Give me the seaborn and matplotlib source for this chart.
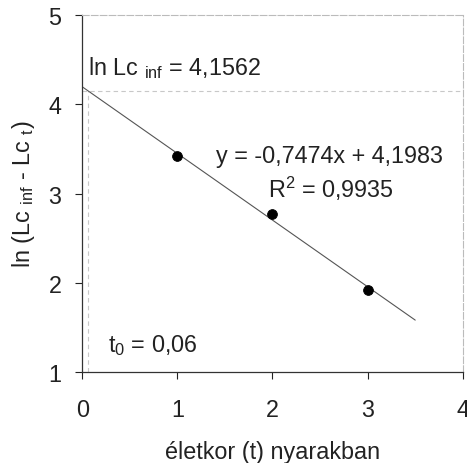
import matplotlib
matplotlib.use("Agg")
import matplotlib.pyplot as plt
import numpy as np
import pandas as pd
import seaborn as sns

# Data
ages = [1, 2, 3]
ln_diff = [3.42, 2.77, 1.92]
slope = -0.7474
intercept = 4.1983
r_squared = 0.9935
ln_lc_inf = 4.1562
t0 = 0.06
trend_x = [0, 3.5]

sns.set_style("ticks")
plt.rcParams["font.family"] = ["Liberation Sans", "DejaVu Sans"]
plt.rcParams["mathtext.fontset"] = "custom"
plt.rcParams["mathtext.rm"] = "Liberation Sans"
plt.rcParams["mathtext.it"] = "Liberation Sans"

FS = 16.8
TXT = "#222222"

fig = plt.figure(figsize=(4.67, 4.64), dpi=100)
ax = fig.add_axes([0.176, 0.196, 0.815, 0.769])

df = pd.DataFrame({"t": ages, "y": ln_diff})
trend = pd.DataFrame({"t": trend_x, "y": [slope * x + intercept for x in trend_x]})

# guide lines
ax.axhline(ln_lc_inf, color="#c8c8c8", lw=0.8, ls=(0, (4, 3)), zorder=1)
ax.plot([t0, t0], [1, ln_lc_inf], color="#c8c8c8", lw=0.8, ls=(0, (4, 3)), zorder=1)

sns.lineplot(data=trend, x="t", y="y", ax=ax, color="#555555", lw=0.8, zorder=2)
sns.scatterplot(data=df, x="t", y="y", ax=ax, color="black", s=50,
                edgecolor="black", zorder=3)

ax.set_xlim(0, 4)
ax.set_ylim(1, 5)
ax.set_xticks([0, 1, 2, 3, 4])
ax.set_yticks([1, 2, 3, 4, 5])
ax.tick_params(labelsize=FS, length=5, width=0.8, colors=TXT)
ax.tick_params(axis="x", pad=14)
ax.tick_params(axis="y", pad=10)

for side in ["left", "bottom"]:
    ax.spines[side].set_color("#333333")
    ax.spines[side].set_linewidth(0.9)
for side in ["top", "right"]:
    ax.spines[side].set_color("#bbbbbb")
    ax.spines[side].set_linewidth(0.8)
    ax.spines[side].set_linestyle((0, (6, 2)))

ax.set_xlabel("életkor (t) nyarakban", fontsize=FS, labelpad=13, color=TXT)
ax.set_ylabel(r"ln (Lc $_{\rm inf}$ - Lc $_{\rm t}$)", fontsize=FS, labelpad=8,
              color=TXT)

ax.text(0.06, 4.42, r"ln Lc $_{\rm inf}$ = 4,1562", fontsize=FS, color=TXT,
        va="center", ha="left")
ax.text(2.60, 3.43, "y = -0,7474x + 4,1983", fontsize=FS, color=TXT,
        va="center", ha="center")
ax.text(2.61, 3.06, r"R$^2$ = 0,9935", fontsize=FS, color=TXT,
        va="center", ha="center")
ax.text(0.27, 1.31, r"t$_0$ = 0,06", fontsize=FS, color=TXT,
        va="center", ha="left")

fig.savefig("out.png", dpi=100)
